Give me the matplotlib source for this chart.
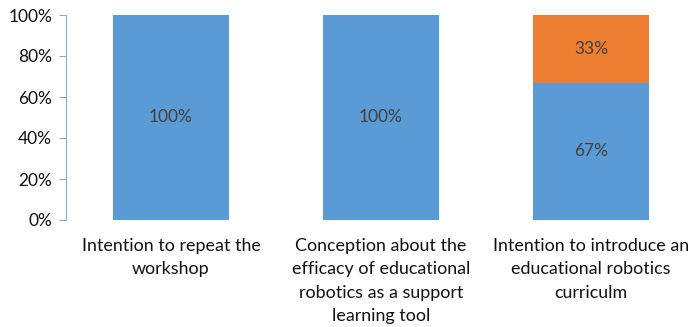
import matplotlib

matplotlib.use("Agg")

import matplotlib.pyplot as plt
import numpy as np

categories = [
    "Intention to repeat the\nworkshop",
    "Conception about the\nefficacy of educational\nrobotics as a support\nlearning tool",
    "Intention to introduce an\neducational robotics\ncurriculm",
]
yes_vals = [100, 100, 67]
no_vals = [0, 0, 33]
yticks = [0, 20, 40, 60, 80, 100]

blue = "#5B9BD5"
orange = "#ED7D31"

plt.rcParams["font.family"] = ["Lato", "DejaVu Sans"]

fig = plt.figure(figsize=(6.91, 3.27), dpi=100)
ax = fig.add_axes([66 / 691, 107 / 327, 630 / 691, 205 / 327])

x = np.arange(len(categories))
ax.bar(x, yes_vals, width=0.55, color=blue)
ax.bar(x, no_vals, width=0.55, bottom=yes_vals, color=orange)

for i in range(len(categories)):
    ax.text(x[i], yes_vals[i] / 2, f"{yes_vals[i]}%", ha="center", va="center",
            fontsize=12.5, color="#404040")
    if no_vals[i] > 0:
        ax.text(x[i], yes_vals[i] + no_vals[i] / 2, f"{no_vals[i]}%", ha="center",
                va="center", fontsize=12.5, color="#404040")

ax.set_xlim(-0.5, 2.5)
ax.set_ylim(0, 100)
ax.set_yticks(yticks)
ax.set_yticklabels([f"{v}%" for v in yticks], fontsize=12.5, color="#111111")
ax.set_xticks(x)
ax.set_xticklabels(categories, fontsize=12.9, color="#111111", linespacing=1.56, va="top")
ax.tick_params(axis="x", length=0, pad=13)
ax.tick_params(axis="y", length=5, color="#8EA9C8", pad=5)

for s in ["top", "right", "bottom"]:
    ax.spines[s].set_visible(False)
ax.spines["left"].set_color("#8EA9C8")

plt.savefig("out.png", dpi=100)
plt.close()
